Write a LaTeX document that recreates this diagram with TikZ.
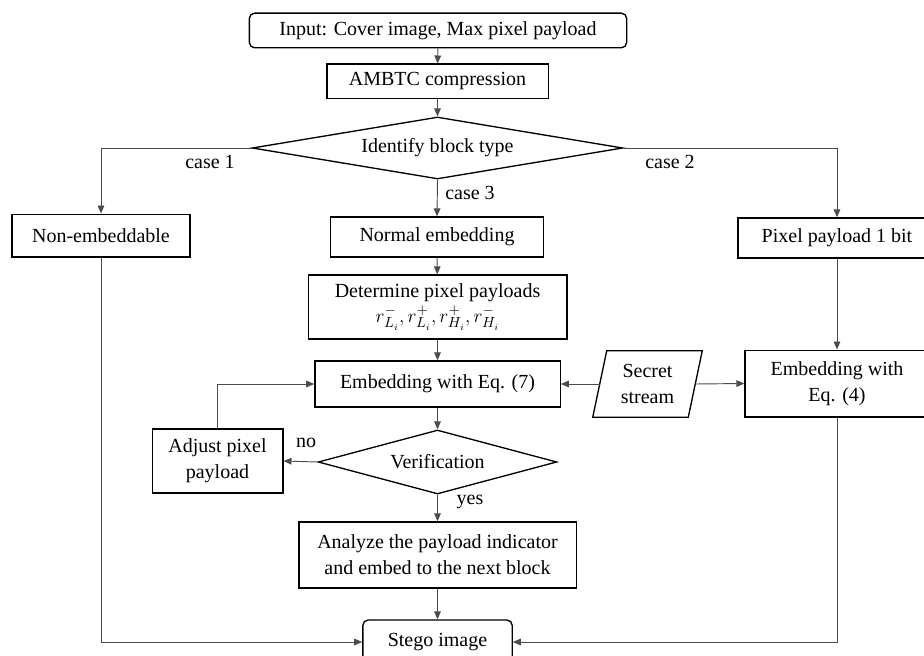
\documentclass[tikz,border=0pt]{standalone}
\usepackage{fontspec}
\setmainfont{Liberation Serif}
\usetikzlibrary{shapes.geometric,arrows.meta,calc}

\begin{document}
\begin{tikzpicture}[
  x=0.75pt, y=-0.75pt,
  font=\fontsize{15}{19.5}\selectfont,
  box/.style={draw=black, line width=1pt, rectangle, inner sep=0pt, align=center},
  term/.style={box, rounded corners=4pt},
  decision/.style={draw=black, line width=1pt, diamond, aspect=6, inner sep=0pt, align=center},
  flow/.style={draw=black!70, line width=0.7pt, -{Triangle[length=6pt,width=5pt]}},
  lbl/.style={inner sep=0pt}
]
\useasboundingbox (0,0) rectangle (924,656);

% --- main column ---
\node[term, minimum width=283pt, minimum height=26pt] (input) at (438,30.5) {Input: Cover image, Max pixel payload};
\node[box, minimum width=166pt, minimum height=26pt] (ambtc) at (437.5,81.5) {AMBTC compression};
\node[decision, minimum width=278pt, minimum height=46.5pt] (ident) at (437.5,148) {Identify block type};
\node[box, minimum width=160pt, minimum height=30pt] (normal) at (437,237) {Normal embedding};
\node[box, minimum width=194pt, minimum height=48pt] (detpay) at (437.5,307)
  {Determine pixel payloads\\[-1pt] $r_{L_i}^{-}, r_{L_i}^{+}, r_{H_i}^{+}, r_{H_i}^{-}$};
\node[box, minimum width=184pt, minimum height=34.5pt] (eq7) at (437.5,384) {Embedding with Eq. (7)};
\node[decision, minimum width=179pt, minimum height=48pt] (verif) at (437.5,462) {Verification};
\node[box, minimum width=208pt, minimum height=49.5pt] (analyze) at (437.5,555)
  {Analyze the payload indicator\\and embed to the next block};
\node[term, minimum width=112pt, minimum height=33pt] (stego) at (437.5,642) {Stego image};

% --- side branches ---
\node[box, minimum width=133.5pt, minimum height=32pt] (nonemb) at (101,235.5) {Non-embeddable};
\node[box, minimum width=148.5pt, minimum height=30pt] (pixel1) at (837,238) {Pixel payload 1 bit};
\node[box, minimum width=138pt, minimum height=50pt] (eq4) at (837,383.5) {Embedding with\\Eq. (4)};
\node[box, minimum width=98pt, minimum height=48pt] (adjust) at (217.5,461) {Adjust pixel\\payload};

% secret stream: parallelogram drawn around an invisible text node
\node[inner sep=0pt, minimum width=71.25pt, minimum height=49.5pt, align=center] (secret) at (647.5,384) {Secret\\stream};
\draw[line width=1pt] ($(secret.north west)+(7,0)$) -- ($(secret.north east)+(7,0)$)
  -- ($(secret.south east)+(-7,0)$) -- ($(secret.south west)+(-7,0)$) -- cycle;

% --- labels ---
\node[lbl] (c1) at (210,162) {case 1};
\node[lbl] (c2) at (670,162) {case 2};
\node[lbl] (c3) at (470,193) {case 3};
\node[lbl] (no) at (306,443) {no};
\node[lbl] (yes) at (470,502) {yes};

% --- connectors ---
\draw[flow] (input) -- (ambtc);
\draw[flow] (ambtc) -- (ident.north);
\draw[flow] (ident.west) -| (nonemb.north);
\draw[flow] (ident.east) -| (pixel1.north);
\draw[flow] (ident.south) -- (normal.north);
\draw[flow] (normal) -- (detpay);
\draw[flow] (detpay) -- (eq7);
\draw[flow] (secret.west) -- (eq7.east);
\draw[flow] (secret.east) -- (eq4.west);
\draw[flow] (pixel1) -- (eq4);
\draw[flow] (eq7.south) -- (verif.north);
\draw[flow] (verif.west) -- (adjust.east);
\draw[flow] (adjust.north) |- (eq7.west);
\draw[flow] (verif.south) -- (analyze.north);
\draw[flow] (analyze) -- (stego);
\draw[flow] (nonemb.south) |- (stego.west);
\draw[flow] (eq4.south) |- (stego.east);
\end{tikzpicture}
\end{document}
